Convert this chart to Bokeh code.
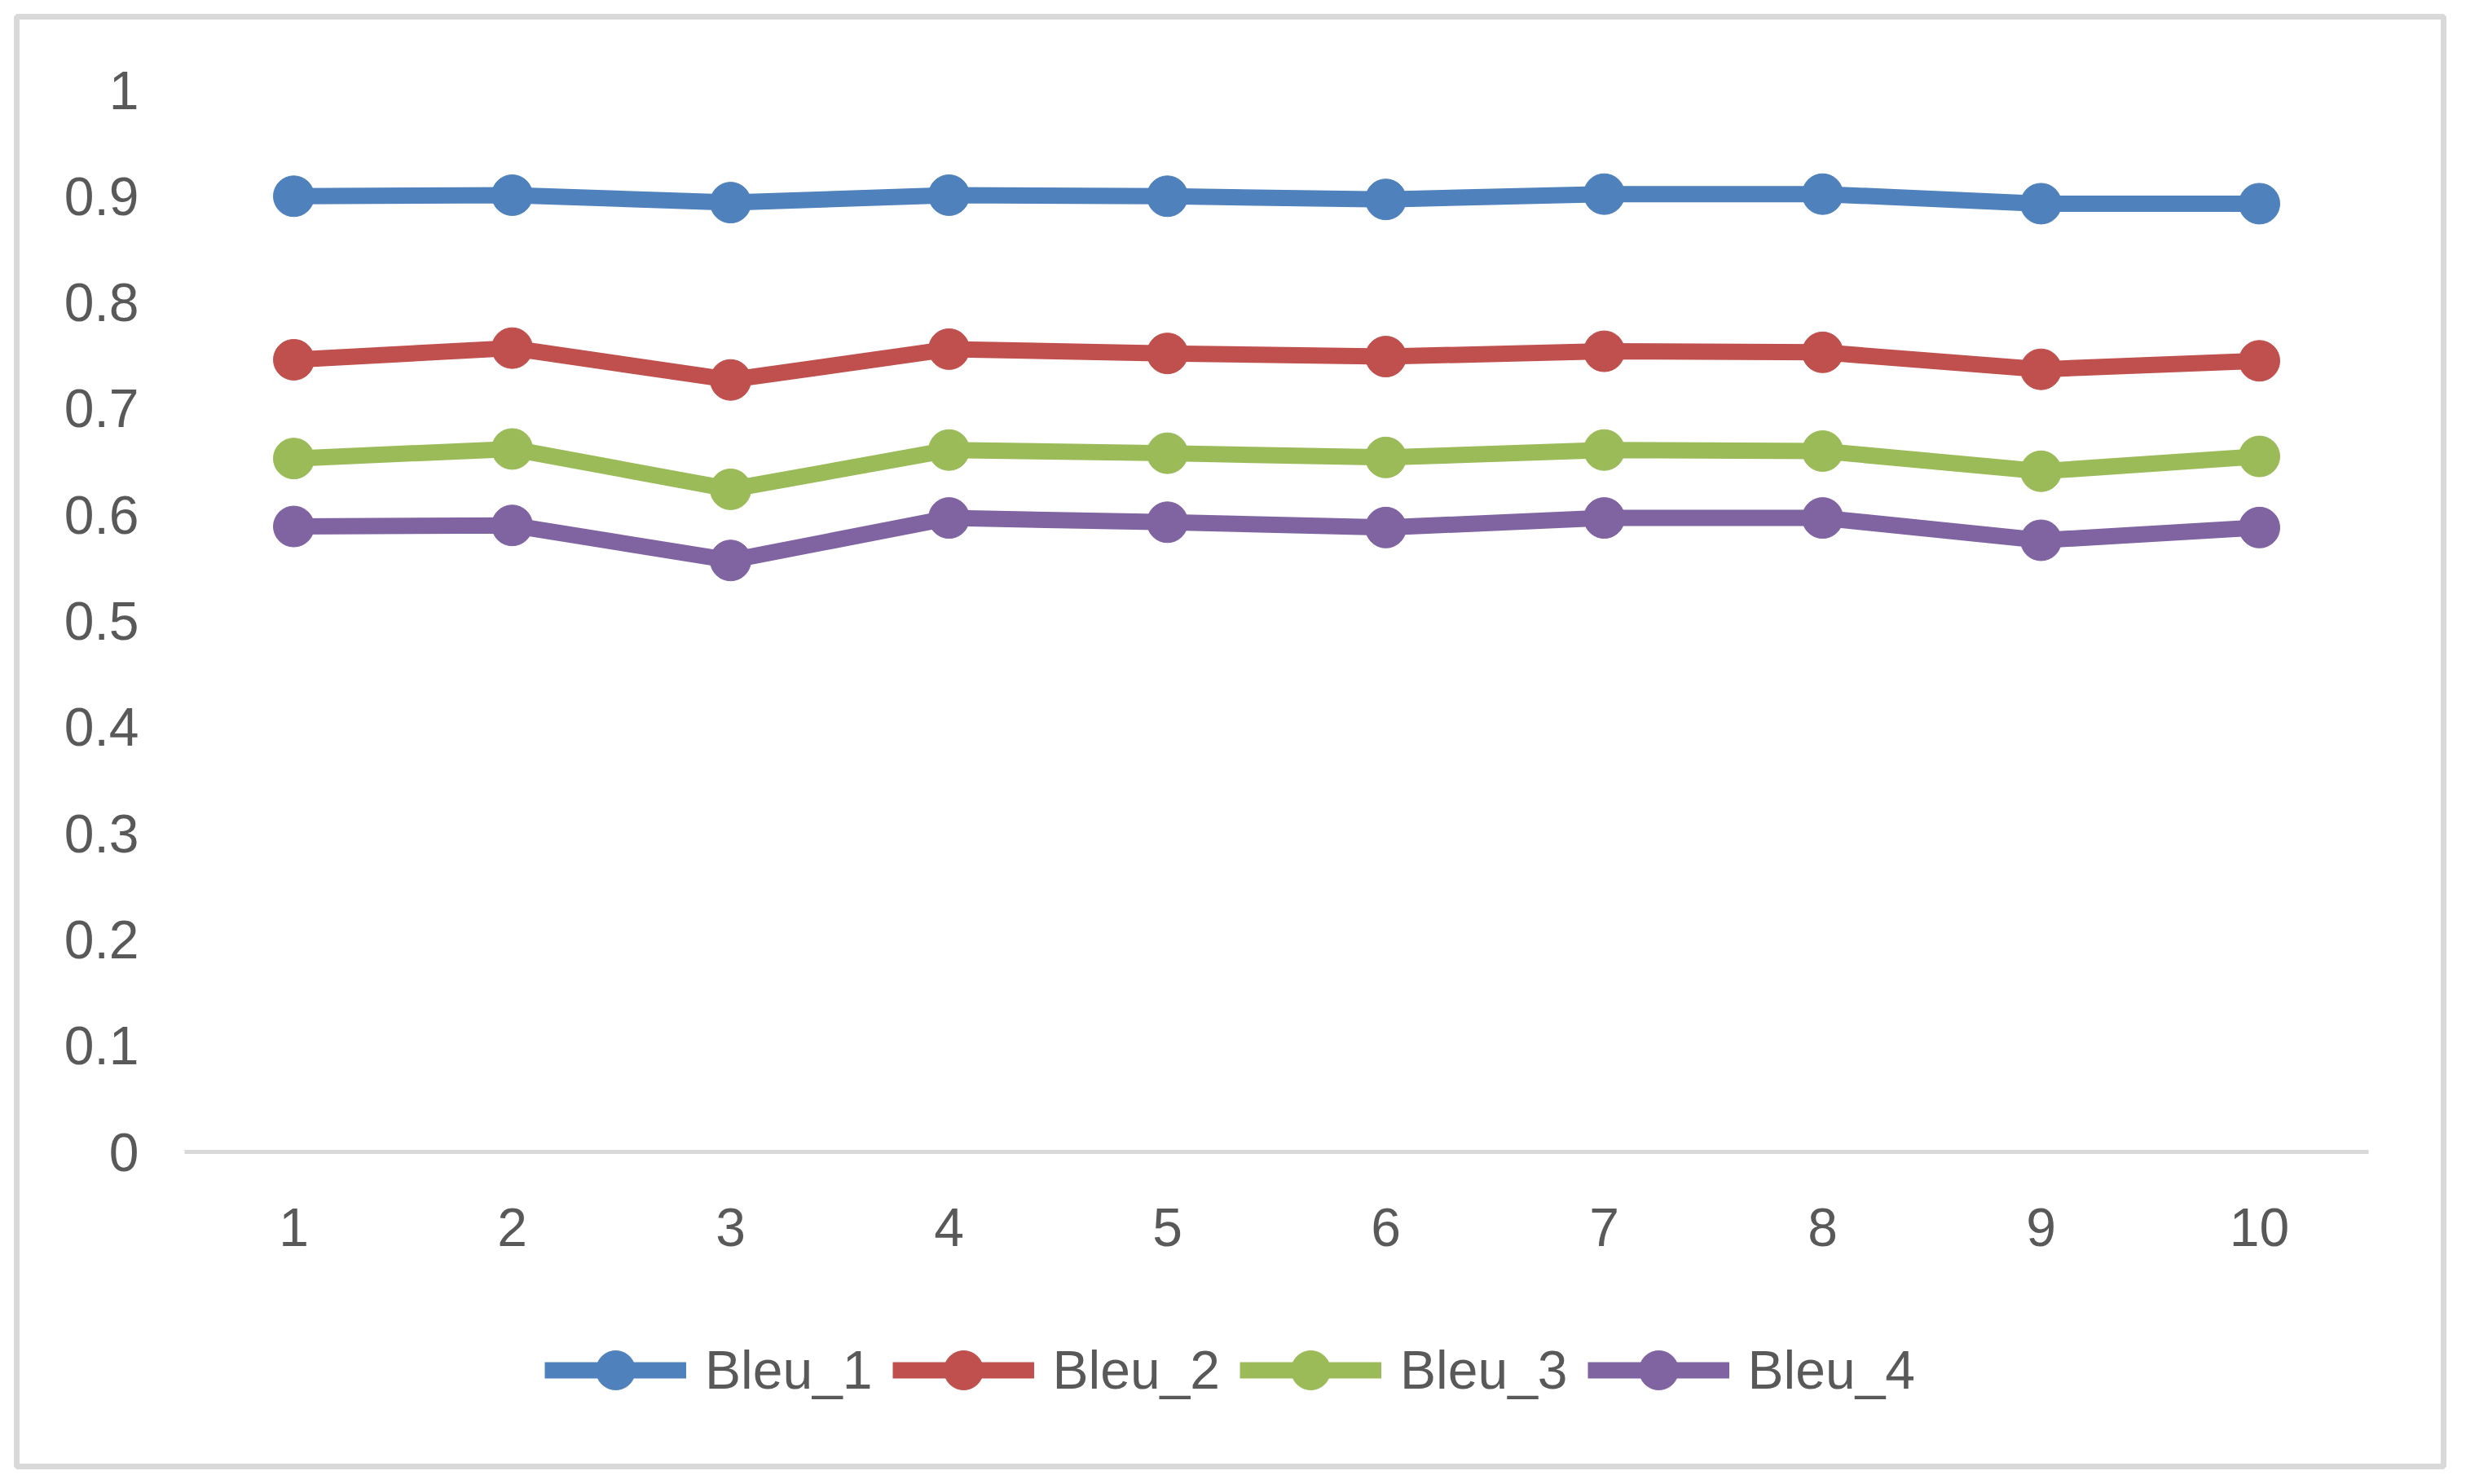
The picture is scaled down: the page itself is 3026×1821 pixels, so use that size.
from bokeh.plotting import figure
from bokeh.models import FixedTicker, Range1d, Legend, LegendItem
from bokeh.embed import file_html
from bokeh.resources import INLINE

# ---- data ----
steps = [1, 2, 3, 4, 5, 6, 7, 8, 9, 10]
bleu_1 = [0.900, 0.901, 0.894, 0.901, 0.900, 0.897, 0.902, 0.902, 0.893, 0.893]
bleu_2 = [0.746, 0.757, 0.727, 0.756, 0.752, 0.749, 0.754, 0.753, 0.737, 0.745]
bleu_3 = [0.653, 0.662, 0.624, 0.661, 0.658, 0.654, 0.661, 0.660, 0.641, 0.655]
bleu_4 = [0.589, 0.590, 0.557, 0.597, 0.593, 0.588, 0.597, 0.597, 0.576, 0.588]
series_names = ["Bleu_1", "Bleu_2", "Bleu_3", "Bleu_4"]
series_colors = ["#4F81BD", "#C0504D", "#9BBB59", "#8064A2"]
y_ticks = [0, 0.1, 0.2, 0.3, 0.4, 0.5, 0.6, 0.7, 0.8, 0.9, 1]
y_tick_labels = ["0", "0.1", "0.2", "0.3", "0.4", "0.5", "0.6", "0.7", "0.8", "0.9", "1"]
x_tick_labels = ["1", "2", "3", "4", "5", "6", "7", "8", "9", "10"]

FONT = "Liberation Sans"
TXT = "#595959"
GRID = "#D9D9D9"

# ---- layout (pixels) ----
W, H = 3014, 1815
F_LEFT, F_RIGHT, F_TOP, F_BOTTOM = 20, 2998, 20, 1799   # frame = chart border box
AX_LEFT, AX_RIGHT = 226, 2906        # plot area horizontal extent
Y1_PX, Y0_PX = 110, 1413             # pixel rows of y=1 and y=0

x_lo, x_hi = steps[0] - 0.5, steps[-1] + 0.5
xs = (AX_RIGHT - AX_LEFT) / (x_hi - x_lo)
ys = (Y0_PX - Y1_PX) / 1.0
x_range = Range1d(x_lo - (AX_LEFT - F_LEFT) / xs, x_hi + (F_RIGHT - AX_RIGHT) / xs)
y_range = Range1d(0 - (F_BOTTOM - Y0_PX) / ys, 1 + (Y1_PX - F_TOP) / ys)

p = figure(width=W, height=H, output_backend="svg", toolbar_location=None,
           x_range=x_range, y_range=y_range,
           min_border_left=F_LEFT, min_border_right=W - F_RIGHT,
           min_border_top=F_TOP, min_border_bottom=H - F_BOTTOM)
p.outline_line_color = GRID
p.outline_line_width = 7
p.grid.visible = False
p.background_fill_color = "white"
p.border_fill_color = "white"

# x axis at y = 0
p.xaxis.fixed_location = 0
p.xaxis.ticker = FixedTicker(ticks=steps)
p.xaxis.major_label_overrides = {s: l for s, l in zip(steps, x_tick_labels)}
p.xaxis.axis_line_color = None
p.xaxis.major_tick_line_color = None
p.xaxis.minor_tick_line_color = None
p.xaxis.major_label_standoff = 63
p.xaxis.major_label_text_font = FONT
p.xaxis.major_label_text_font_size = "66px"
p.xaxis.major_label_text_color = TXT
# horizontal axis line across the plot area only
p.segment(x0=[x_lo], x1=[x_hi], y0=[0], y1=[0], line_color=GRID, line_width=5)

# y axis at left edge of plot area
p.yaxis.fixed_location = x_lo
p.yaxis.ticker = FixedTicker(ticks=y_ticks)
p.yaxis.major_label_overrides = {t: l for t, l in zip(y_ticks, y_tick_labels)}
p.yaxis.axis_line_color = None
p.yaxis.major_tick_line_color = None
p.yaxis.minor_tick_line_color = None
p.yaxis.major_label_standoff = 50
p.yaxis.major_label_text_font = FONT
p.yaxis.major_label_text_font_size = "66px"
p.yaxis.major_label_text_color = TXT

items = []
for name, vals, col in zip(series_names, [bleu_1, bleu_2, bleu_3, bleu_4], series_colors):
    ln = p.line(steps, vals, line_color=col, line_width=20, line_join="round")
    sc = p.scatter(steps, vals, marker="circle", size=50, fill_color=col, line_color=col)
    items.append(LegendItem(label=name, renderers=[ln, sc]))

legend = Legend(items=items, orientation="horizontal", location=(648, 58),
                glyph_width=174, glyph_height=120, label_standoff=23, spacing=24,
                padding=0, margin=0, border_line_alpha=0, background_fill_alpha=0,
                label_text_font=FONT, label_text_font_size="66px",
                label_text_color=TXT, label_height=60)
p.add_layout(legend, "center")

open("out.html", "w").write(file_html(p, INLINE))
